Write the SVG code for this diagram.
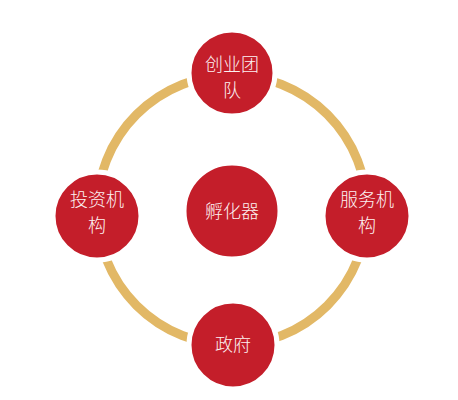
<svg xmlns="http://www.w3.org/2000/svg" width="458" height="400" viewBox="0 0 458 400">
<style>
.node{fill:#C41E2A;stroke:#ffffff;stroke-width:5}
.lbl{fill:#fdf2f2;font-family:"Noto Sans CJK SC","Noto Sans",sans-serif;font-size:18px;font-weight:300;text-anchor:middle}
.ring{fill:none;stroke:#E2B866;stroke-width:9}
</style>
<rect width="458" height="400" fill="#ffffff"/>
<g id="connectors">
<circle class="ring" cx="232" cy="210" r="135"/>
</g>
<g id="node-top">
<circle class="node" cx="232" cy="73" r="43"/>
<text class="lbl" x="232" y="71">创业团</text>
<text class="lbl" x="232" y="97">队</text>
</g>
<g id="node-left">
<circle class="node" cx="97" cy="216" r="44"/>
<text class="lbl" x="97" y="206">投资机</text>
<text class="lbl" x="97" y="232">构</text>
</g>
<g id="node-center">
<circle class="node" cx="232" cy="211" r="48"/>
<text class="lbl" x="232" y="218">孵化器</text>
</g>
<g id="node-right">
<circle class="node" cx="367" cy="216" r="44"/>
<text class="lbl" x="367" y="206">服务机</text>
<text class="lbl" x="367" y="232">构</text>
</g>
<g id="node-bottom">
<circle class="node" cx="233" cy="345" r="44"/>
<text class="lbl" x="233" y="351">政府</text>
</g>
</svg>
